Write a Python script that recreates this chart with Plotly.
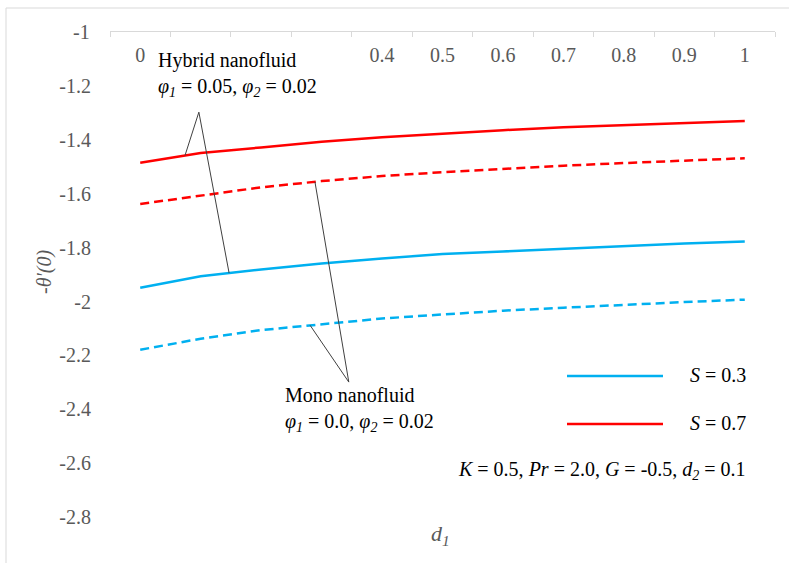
import numpy as np
import plotly.graph_objects as go

# ---------------- data ----------------
d1 = [0.0, 0.1, 0.2, 0.3, 0.4, 0.5, 0.6, 0.7, 0.8, 0.9, 1.0]
x_labels = ["0", "0.1", "0.2", "0.3", "0.4", "0.5", "0.6", "0.7", "0.8", "0.9", "1"]
hidden_x_labels = ["0.1", "0.2", "0.3"]  # covered by the callout text box in the original

hybrid_S03 = [-1.949, -1.906, -1.881, -1.859, -1.840, -1.824, -1.814, -1.804, -1.794, -1.785, -1.777]
mono_S03 = [-2.179, -2.138, -2.106, -2.084, -2.063, -2.048, -2.034, -2.023, -2.012, -2.002, -1.993]
hybrid_S07 = [-1.485, -1.449, -1.428, -1.407, -1.390, -1.376, -1.364, -1.353, -1.345, -1.337, -1.330]
mono_S07 = [-1.638, -1.607, -1.576, -1.553, -1.534, -1.520, -1.507, -1.496, -1.486, -1.477, -1.468]

y_ticks = [-1.0, -1.2, -1.4, -1.6, -1.8, -2.0, -2.2, -2.4, -2.6, -2.8]
y_labels = ["-1", "-1.2", "-1.4", "-1.6", "-1.8", "-2", "-2.2", "-2.4", "-2.6", "-2.8"]

legend_labels = ["<i>S</i> = 0.3", "<i>S</i> = 0.7"]
param_text = "<i>K</i> = 0.5, <i>Pr</i> = 2.0, <i>G</i> = -0.5, <i>d<sub>2</sub></i> = 0.1"
hybrid_text = "Hybrid nanofluid<br><i>φ<sub>1</sub></i> = 0.05, <i>φ<sub>2</sub></i> = 0.02"
mono_text = "Mono nanofluid<br><i>φ<sub>1</sub></i> = 0.0, <i>φ<sub>2</sub></i> = 0.02"

# ---------------- style ----------------
BLUE = "#00B0F0"
RED = "#FF0000"
GRAY = "#595959"
AXIS = "#D9D9D9"
FONT = "Liberation Serif, Times New Roman, serif"
W, H = 789, 563
ML, MR, MT, MB = 110, 14, 32, 0
PW, PH = W - ML - MR, H - MT - MB
PX_PER_UNIT = 269.4
Y_TOP = -0.9995


def px(xp):
    return (xp - ML) / PW


def py(yp):
    return (H - MB - yp) / PH


fig = go.Figure()
series = [
    (hybrid_S03, BLUE, "solid"),
    (mono_S03, BLUE, "9px,5px"),
    (hybrid_S07, RED, "solid"),
    (mono_S07, RED, "9px,5px"),
]
for vals, col, dash in series:
    fig.add_trace(go.Scatter(x=d1, y=vals, mode="lines", showlegend=False,
                             line=dict(color=col, width=2.5, dash=dash),
                             hoverinfo="skip"))

step = d1[1] - d1[0]
boundaries = [v - step / 2 for v in d1] + [d1[-1] + step / 2]
ticktext = ["" if lab in hidden_x_labels else lab for lab in x_labels]

fig.update_layout(
    width=W, height=H,
    margin=dict(l=ML, r=MR, t=MT, b=MB, autoexpand=False),
    paper_bgcolor="white", plot_bgcolor="white",
    font=dict(family=FONT, size=20, color="black"),
    xaxis=dict(range=[boundaries[0], boundaries[-1]], side="top",
               tickmode="array", tickvals=d1, ticktext=ticktext,
               ticks="", ticklabelposition="inside", ticklabelstandoff=17,
               tickfont=dict(family=FONT, size=20, color=GRAY),
               showline=True, linecolor=AXIS, linewidth=1,
               showgrid=False, zeroline=False,
               minor=dict(tickmode="array", tickvals=boundaries, ticks="inside",
                          ticklen=5, tickcolor=AXIS, tickwidth=1, showgrid=False)),
    yaxis=dict(range=[Y_TOP - PH / PX_PER_UNIT, Y_TOP],
               tickmode="array", tickvals=y_ticks[1:], ticktext=y_labels[1:],
               ticks="", ticklabelstandoff=18,
               tickfont=dict(family=FONT, size=20, color=GRAY),
               showline=False, showgrid=False, zeroline=False),
)

# top y tick label sits on the x-axis line; plotly drops it there, so draw it as text
fig.add_annotation(xref="paper", yref="y", x=px(ML - 18), y=y_ticks[0], xanchor="right",
                   yanchor="middle", text=y_labels[0], showarrow=False,
                   font=dict(family=FONT, size=20, color=GRAY))

# callout connectors (apex -> point on curve)
def connector(ax, ay, tx, curve):
    ty = float(np.interp(tx, d1, curve))
    fig.add_shape(type="line", xref="x", yref="y", x0=ax, y0=ay, x1=tx, y1=ty,
                  line=dict(color="#404040", width=1))

connector(0.097, -1.297, 0.074, hybrid_S07)
connector(0.097, -1.297, 0.147, hybrid_S03)
connector(0.345, -2.299, 0.289, mono_S07)
connector(0.345, -2.299, 0.281, mono_S03)

# callout texts
fig.add_annotation(xref="paper", yref="paper", x=px(156), y=py(75), xanchor="left",
                   yanchor="middle", text=hybrid_text, showarrow=False, align="left",
                   font=dict(family=FONT, size=20, color="black"))
fig.add_annotation(xref="paper", yref="paper", x=px(283), y=py(409), xanchor="left",
                   yanchor="middle", text=mono_text, showarrow=False, align="left",
                   font=dict(family=FONT, size=20, color="black"))

# legend
for lab, col, yc in zip(legend_labels, [BLUE, RED], [376, 424]):
    fig.add_shape(type="line", xref="paper", yref="paper", x0=px(567), x1=px(663),
                  y0=py(yc), y1=py(yc), line=dict(color=col, width=2.5))
    fig.add_annotation(xref="paper", yref="paper", x=px(748), y=py(yc - 1), xanchor="right",
                       yanchor="middle", text=lab, showarrow=False,
                       font=dict(family=FONT, size=20, color="black"))

fig.add_annotation(xref="paper", yref="paper", x=px(748), y=py(470), xanchor="right",
                   yanchor="middle", text=param_text, showarrow=False,
                   font=dict(family=FONT, size=20, color="black"))

# axis titles
fig.add_annotation(xref="paper", yref="paper", x=px(440), y=py(535), xanchor="center",
                   yanchor="middle", text="<i>d<sub>1</sub></i>", showarrow=False,
                   font=dict(family=FONT, size=22, color=GRAY))
fig.add_annotation(xref="paper", yref="paper", x=px(44), y=py(272), xanchor="center",
                   yanchor="middle", text="<i>-θ′(0)</i>", showarrow=False, textangle=-90,
                   font=dict(family=FONT, size=20, color=GRAY))

# chart-area border (left and top edges visible in the crop)
fig.add_shape(type="line", xref="paper", yref="paper", x0=px(6), x1=px(6), y0=py(8), y1=py(563),
              line=dict(color=AXIS, width=1))
fig.add_shape(type="line", xref="paper", yref="paper", x0=px(6), x1=px(789), y0=py(8), y1=py(8),
              line=dict(color=AXIS, width=1))

fig.write_html("out.html")
